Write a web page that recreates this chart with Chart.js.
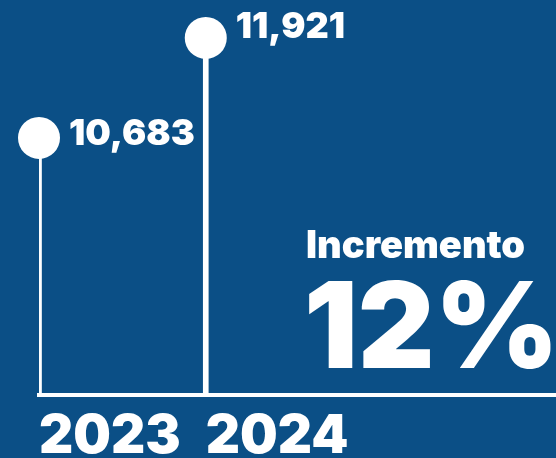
<!DOCTYPE html>
<html>
<head>
<meta charset="utf-8">
<script src="https://cdn.jsdelivr.net/npm/chart.js@4.4.1/dist/chart.umd.min.js"></script>
<style>
  html, body { margin: 0; padding: 0; background: #0b4f86; }
  #wrap { width: 556px; height: 458px; position: relative; }
</style>
</head>
<body>
<div id="wrap"><canvas id="chart"></canvas></div>
<script>
// datos
const years = [2023, 2024];
const totals = [10683, 11921];
const xTicks = [2023, 2024];
const headline = 'Incremento';
const growth = '12%';

const FONT = 'Inter, "Open Sans", sans-serif';

// etiquetas de valor junto a cada punto + texto de incremento
const labelPlugin = {
  id: 'labels',
  afterDatasetsDraw(chart) {
    const ctx = chart.ctx;
    const meta = chart.getDatasetMeta(1);
    const offsets = [-4, -11];
    ctx.save();
    ctx.fillStyle = '#ffffff';
    ctx.textAlign = 'left';
    ctx.textBaseline = 'middle';
    ctx.font = '900 36px ' + FONT;
    meta.data.forEach((pt, i) => {
      ctx.fillText(totals[i].toLocaleString('en-US'), pt.x + 30, pt.y + offsets[i]);
    });
    ctx.textBaseline = 'alphabetic';
    ctx.font = '900 38px ' + FONT;
    ctx.fillText(headline, 306, 258);
    ctx.font = '900 119px ' + FONT;
    ctx.fillText(growth, 304, 368);
    ctx.restore();
  }
};

new Chart(document.getElementById('chart'), {
  data: {
    datasets: [
      {
        type: 'bar',
        data: years.map((y, i) => ({ x: y, y: totals[i] })),
        backgroundColor: '#ffffff',
        barThickness: 5,
        borderWidth: 0
      },
      {
        type: 'line',
        data: years.map((y, i) => ({ x: y, y: totals[i] })),
        showLine: false,
        pointRadius: 21,
        pointHoverRadius: 21,
        pointBackgroundColor: '#ffffff',
        pointBorderWidth: 0,
        clip: false
      }
    ]
  },
  options: {
    responsive: true,
    maintainAspectRatio: false,
    animation: false,
    layout: { autoPadding: false, padding: { left: 39, right: 0, top: 0, bottom: 0 } },
    plugins: { legend: { display: false }, tooltip: { enabled: false } },
    scales: {
      x: {
        type: 'linear',
        offset: false,
        min: 2023,
        max: 2026.1,
        afterBuildTicks: (scale) => { scale.ticks = xTicks.map(v => ({ value: v })); },
        afterFit: (scale) => { scale.height = 63; },
        grid: { display: false, drawTicks: false },
        border: { display: true, color: '#ffffff', width: 4 },
        ticks: {
          color: '#ffffff',
          align: 'start',
          padding: 10,
          autoSkip: false,
          maxRotation: 0,
          font: { family: FONT, size: 53, weight: '900' },
          callback: (v) => String(v)
        }
      },
      y: {
        display: false,
        min: 7500,
        max: 12390
      }
    }
  },
  plugins: [labelPlugin]
});
</script>
</body>
</html>
